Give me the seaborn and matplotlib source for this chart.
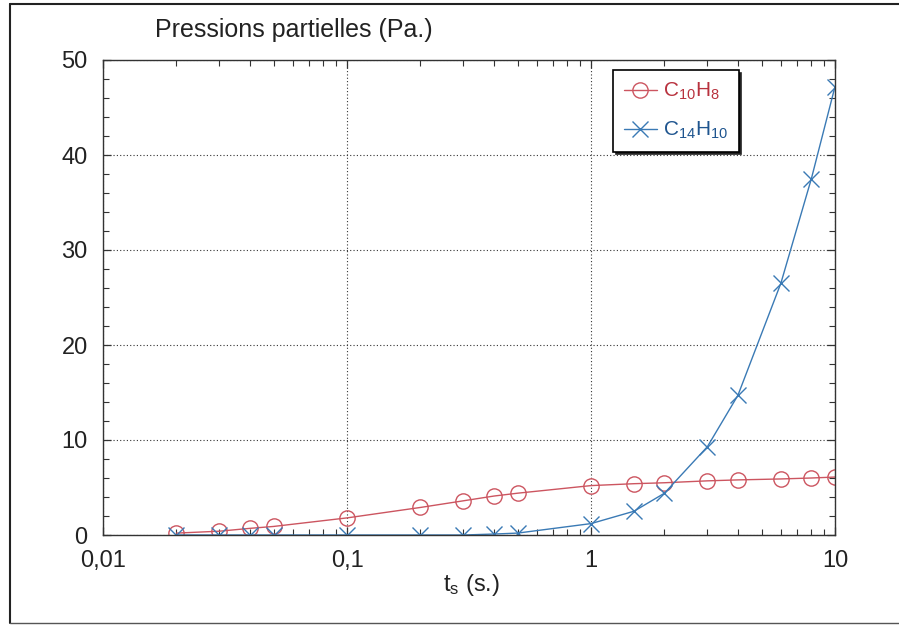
import numpy as np
import pandas as pd
import seaborn as sns
import matplotlib.pyplot as plt
from matplotlib.lines import Line2D
from matplotlib.ticker import FixedLocator, MultipleLocator, LogLocator, FuncFormatter, NullFormatter

# residence time (s) and partial pressures (Pa)
t_s = [0.02, 0.03, 0.04, 0.05, 0.1, 0.2, 0.3, 0.4, 0.5, 1, 1.5, 2, 3, 4, 6, 8, 10]
p_c10h8 = [0.2, 0.4, 0.7, 0.9, 1.8, 2.9, 3.6, 4.1, 4.4, 5.2, 5.4, 5.5, 5.7, 5.8, 5.9, 6.0, 6.1]
p_c14h10 = [0.0, 0.0, 0.0, 0.0, 0.0, 0.0, 0.0, 0.1, 0.2, 1.2, 2.5, 4.4, 9.3, 14.7, 26.5, 37.5, 47.2]

x_ticks = [0.01, 0.1, 1, 10]
x_tick_labels = ['0,01', '0,1', '1', '10']
y_ticks = [0, 10, 20, 30, 40, 50]

red = '#cc5560'
blue = '#3a7ab5'

sns.set_style('white')
plt.rcParams['font.family'] = ['Liberation Sans', 'DejaVu Sans']
plt.rcParams['mathtext.fontset'] = 'custom'
plt.rcParams['mathtext.rm'] = 'Liberation Sans'
plt.rcParams['mathtext.default'] = 'rm'

df = pd.DataFrame({'t': t_s, 'C10H8': p_c10h8, 'C14H10': p_c14h10})

fig = plt.figure(figsize=(8.99, 6.26), dpi=100)
ax = fig.add_axes([103 / 899, 1 - 535 / 626, (835 - 103) / 899, (535 - 60) / 626])

sns.lineplot(data=df, x='t', y='C10H8', ax=ax, color=red, linewidth=1.0,
             marker='o', markersize=11, markerfacecolor='none', markeredgecolor=red,
             markeredgewidth=1.0, label=r'C$_{10}$H$_8$')
sns.lineplot(data=df, x='t', y='C14H10', ax=ax, color=blue, linewidth=1.0,
             marker='x', markersize=11, markeredgecolor=blue, markeredgewidth=1.0,
             label=r'C$_{14}$H$_{10}$')

ax.set_xscale('log')
ax.set_xlim(0.01, 10)
ax.set_ylim(0, 50)

ax.xaxis.set_major_locator(FixedLocator(x_ticks))
ax.xaxis.set_major_formatter(FuncFormatter(lambda v, p: x_tick_labels[x_ticks.index(v)] if v in x_ticks else ''))
ax.xaxis.set_minor_locator(LogLocator(base=10, subs=np.arange(2, 10)))
ax.xaxis.set_minor_formatter(NullFormatter())
ax.yaxis.set_major_locator(FixedLocator(y_ticks))
ax.yaxis.set_minor_locator(MultipleLocator(2))

ax.tick_params(which='both', direction='in', top=True, right=True, bottom=True, left=True,
               color='#333333', labelsize=17, labelcolor='#222222')
ax.tick_params(which='major', length=6, width=0.9)
ax.tick_params(which='minor', length=4, width=0.8)
ax.tick_params(axis='x', pad=11)
ax.tick_params(axis='y', pad=11)

ax.grid(True, which='major', linestyle=(0, (1, 2)), color='#333333', linewidth=0.8)
for s in ax.spines.values():
    s.set_visible(True)
    s.set_color('#333333')
    s.set_linewidth(1.0)

ax.set_xlabel('')
ax.set_ylabel('')

leg = ax.legend(loc='upper left', bbox_to_anchor=(0.697, 0.978), fontsize=15,
                frameon=True, fancybox=False, shadow={'color': '#222222', 'alpha': 1.0},
                labelcolor=['#b8323e', '#1f558f'], handlelength=1.6, handletextpad=0.3,
                borderpad=0.5, labelspacing=0.85, borderaxespad=0)
leg.get_frame().set_edgecolor('black')
leg.get_frame().set_linewidth(1.2)

fig.text(155 / 899, 1 - 30 / 626, 'Pressions partielles (Pa.)', fontsize=18,
         color='#222222', ha='left', va='center')
fig.text(472 / 899, 1 - 585 / 626, r't$_s$ (s.)', fontsize=17,
         color='#222222', ha='center', va='center')

# frame of the scanned page
fig.add_artist(Line2D([0.011, 0.011], [0.004, 0.993], transform=fig.transFigure, color='#222222', lw=1.5))
fig.add_artist(Line2D([0.011, 1.0], [0.993, 0.993], transform=fig.transFigure, color='#222222', lw=1.5))
fig.add_artist(Line2D([0.011, 1.0], [0.004, 0.004], transform=fig.transFigure, color='#555555', lw=1.0))

fig.savefig('out.png', dpi=100)
